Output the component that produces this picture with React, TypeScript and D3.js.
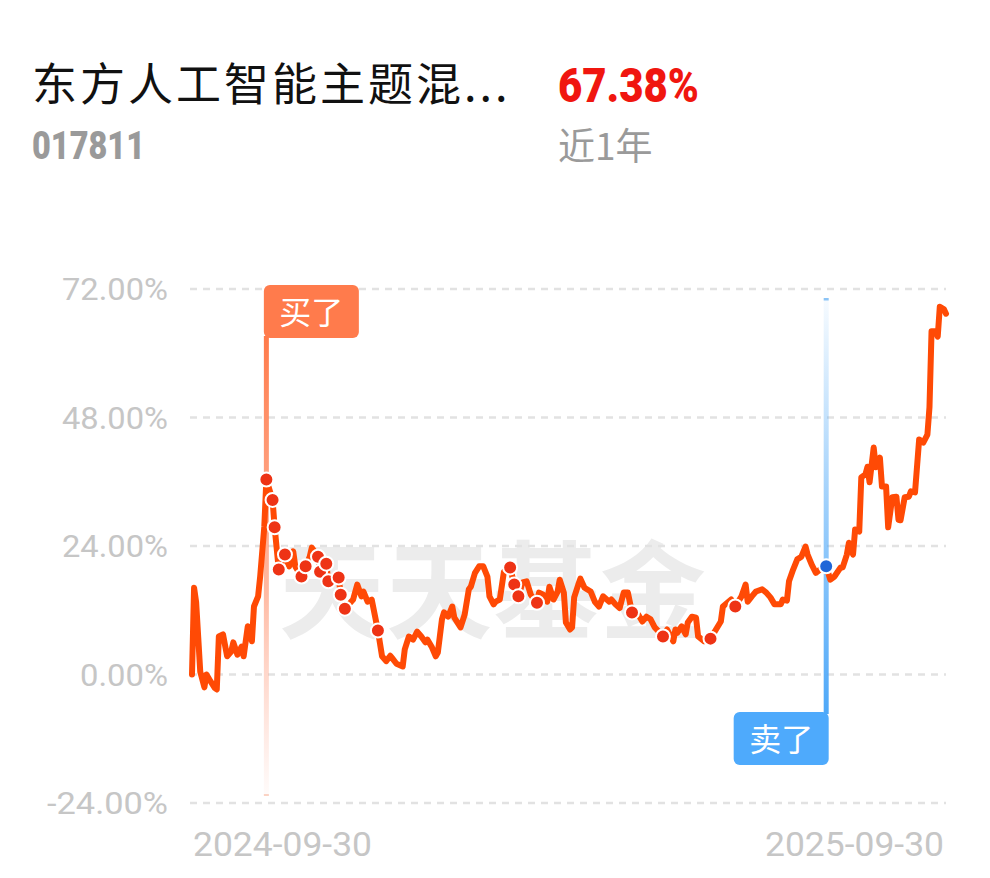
import React from "react";
import * as d3 from "d3";

// calendar-day offsets from 2024-09-30 and cumulative return (%)
const days = [0,1,2,3,4,6,7,9,11,12,13,15,17,19,20,22,24,25,27,29,30,32,33,35,36,39,40,42,45,47,49,50,53,55,57,58,61,62,65,66,69,71,72,74,78,80,82,83,85,87,90,92,94,96,97,99,102,103,105,107,109,111,113,114,116,118,119,121,122,124,126,127,130,132,134,135,137,139,141,143,144,146,147,149,151,154,156,158,160,162,164,167,168,170,172,173,175,177,178,180,181,183,184,185,187,188,190,193,195,197,199,202,203,205,207,209,211,213,216,218,220,222,224,226,228,230,233,234,235,237,239,240,242,244,245,248,251,253,256,257,261,263,266,268,269,271,273,276,278,280,282,285,286,288,289,291,293,295,297,298,300,302,304,307,309,311,314,315,317,318,320,321,323,324,326,327,328,330,331,333,334,336,337,339,341,342,343,345,347,348,350,352,354,356,357,358,360,361,362,364,365];
const returns = [0,16.2,13.5,7,0.5,-2.4,0,-1.3,-2.5,-2.8,7.1,7.5,3.4,4.3,6,3.7,5.2,3.4,9,6.2,12.7,14.6,18.3,27.6,36.4,32.6,27.5,19.6,22.4,20.2,23,20.2,18.3,20.2,22,23.7,22,19.2,20.7,17.4,17.5,18.1,14.9,12.3,14,16.8,14.6,15.5,13.6,14,8.2,3.4,2.5,3.5,3,2,1.5,4.7,7.1,6.5,8,7.1,6,6.5,5.2,3.4,4.1,10.3,11.6,10.8,12.7,10.6,8.8,11.2,15.9,16.4,19,20.2,20.2,18.3,14.6,13.1,13.6,14,19.2,20,16.8,14.6,17.2,17.4,14.9,13.4,15.3,14.9,13.6,16.4,14,15.5,17.7,15.3,9.7,8.4,8.8,14.4,16.8,17.9,16.2,15.5,13.6,12.7,14.6,13.6,14,13.1,12.4,15.3,15.3,11.6,11.2,9.9,10.8,10.3,8.8,8,7.1,8.4,6.2,8.4,7.8,9,7.5,9.7,10.8,10.6,7.1,6.2,6.7,8,9.9,12.7,14,12.7,14.6,16.8,13.6,14.6,15.5,15.9,15.3,14.4,13.1,13.1,14,13.8,17.4,19.6,21.5,22,23.9,22.4,20.5,19,19.6,20.2,17.7,18.3,20,20,22.4,24.6,22.4,27.1,26.7,36.8,37.4,38.8,35.9,42.4,38.7,40.5,35.1,35.1,27.5,33.1,33.2,28.9,28.8,33.1,33.2,34.2,34,43.9,43.3,44.8,49.9,64.1,64.1,63.1,68.7,68.2,67.38];
const buyDays = [36,39,40,42,45,53,55,61,62,65,66,71,72,74,90,154,156,158,167,213,228,251,263];
const sellDays = [307];
const yTicks = [72, 48, 24, 0, -24];
const xTickLabels = ["2024-09-30", "2025-09-30"];
const fundName = "东方人工智能主题混...";
const fundCode = "017811";
const periodReturn = "67.38%";
const periodLabel = "近1年";
const buyLabel = "买了";
const sellLabel = "卖了";
const watermark = "天天基金";

export default function App() {
  const x = d3.scaleLinear().domain([0, 365]).range([192, 946]);
  const y = d3.scaleLinear().domain([-24, 72]).range([803, 289]);
  const pts = days.map((d, i) => [d, returns[i]] as [number, number]);
  const line = d3.line<[number, number]>().x((p) => x(p[0])).y((p) => y(p[1]));
  const valAt = (d: number) => returns[days.indexOf(d)];
  const buyX = x(buyDays[0]);
  const sellX = x(sellDays[0]);
  const cjk = '"Noto Sans CJK SC", "Noto Sans", sans-serif';
  const num = 'Roboto, "Noto Sans", sans-serif';
  const tickWidth = (s: string) => (s.length === 5 ? 88 : s.length === 6 ? 106 : 121);
  return (
    <svg width={990} height={878} style={{ position: "absolute", left: 0, top: 0, background: "#fff" }}>
      <defs>
        <linearGradient id="buyGrad" x1="0" y1="0" x2="0" y2="1">
          <stop offset="0" stopColor="#ff7a4a" stopOpacity={1} />
          <stop offset="0.55" stopColor="#ff9a78" stopOpacity={0.7} />
          <stop offset="1" stopColor="#ffb09a" stopOpacity={0.05} />
        </linearGradient>
        <linearGradient id="sellGrad" x1="0" y1="0" x2="0" y2="1">
          <stop offset="0" stopColor="#4ea8f8" stopOpacity={0.05} />
          <stop offset="0.5" stopColor="#4ea8f8" stopOpacity={0.55} />
          <stop offset="1" stopColor="#4ea8f8" stopOpacity={1} />
        </linearGradient>
      </defs>
      <rect x={0} y={0} width={990} height={878} fill="#fff" />
      {/* header */}
      <text x={32} y={101} fontFamily={cjk} fontSize={45} letterSpacing={3} fill="#111">{fundName}</text>
      <text x={32} y={159} fontFamily={num} fontWeight={900} fontSize={38} fill="#9a9a9a" textLength={113} lengthAdjust="spacingAndGlyphs">{fundCode}</text>
      <text x={558} y={102} fontFamily={num} fontWeight={900} fontSize={49} fill="#f0160f" textLength={141} lengthAdjust="spacingAndGlyphs">{periodReturn}</text>
      <text x={558} y={160} fontFamily={cjk} fontSize={37} fill="#9a9a9a">{periodLabel}</text>
      {/* watermark */}
      <text x={493} y={630} textAnchor="middle" fontFamily={cjk} fontWeight="bold" fontSize={106} fill="#ececec" letterSpacing={1}>{watermark}</text>
      {/* grid */}
      {yTicks.map((t) => {
        const label = `${t.toFixed(2)}%`;
        return (
          <g key={t}>
            <line x1={190} x2={946} y1={y(t)} y2={y(t)} stroke="#e2e2e2" strokeWidth={2.5} strokeDasharray="7 6" />
            <text x={168} y={y(t) + 11} textAnchor="end" fontFamily={num} fontSize={31} fill="#c6c6c6" textLength={tickWidth(label)} lengthAdjust="spacingAndGlyphs">{label}</text>
          </g>
        );
      })}
      <text x={193} y={856} fontFamily={num} fontSize={33} fill="#c6c6c6" textLength={179} lengthAdjust="spacingAndGlyphs">{xTickLabels[0]}</text>
      <text x={944} y={856} textAnchor="end" fontFamily={num} fontSize={33} fill="#c6c6c6" textLength={179} lengthAdjust="spacingAndGlyphs">{xTickLabels[1]}</text>
      {/* buy marker line */}
      <rect x={buyX - 2.5} y={336} width={5} height={459} fill="url(#buyGrad)" />
      <rect x={buyX - 2.5} y={794} width={5} height={2} fill="#fbd3c4" />
      {/* sell marker line */}
      <rect x={sellX - 2.5} y={300} width={5} height={414} fill="url(#sellGrad)" />
      <rect x={sellX - 2.5} y={298} width={5} height={2.5} fill="#8cc4f6" />
      {/* data line */}
      <path d={line(pts) || ""} fill="none" stroke="#ff4a05" strokeWidth={6} strokeLinejoin="round" strokeLinecap="round" />
      {/* buy dots */}
      {buyDays.map((d) => (
        <circle key={d} cx={x(d)} cy={y(valAt(d))} r={7} fill="#ee3315" stroke="#fff" strokeWidth={2} />
      ))}
      {sellDays.map((d) => (
        <circle key={d} cx={x(d)} cy={y(valAt(d))} r={7} fill="#1f66d8" stroke="#fff" strokeWidth={2} />
      ))}
      {/* buy label */}
      <rect x={buyX - 2.5} y={285} width={95} height={53} rx={6} fill="#ff7b4c" />
      <text x={buyX - 2.5 + 47.5} y={324} textAnchor="middle" fontFamily={cjk} fontSize={32} fill="#fff">{buyLabel}</text>
      {/* sell label */}
      <rect x={sellX + 2.5 - 95} y={712} width={95} height={53} rx={6} fill="#4eaafc" />
      <text x={sellX + 2.5 - 47.5} y={751} textAnchor="middle" fontFamily={cjk} fontSize={32} fill="#fff">{sellLabel}</text>
    </svg>
  );
}
